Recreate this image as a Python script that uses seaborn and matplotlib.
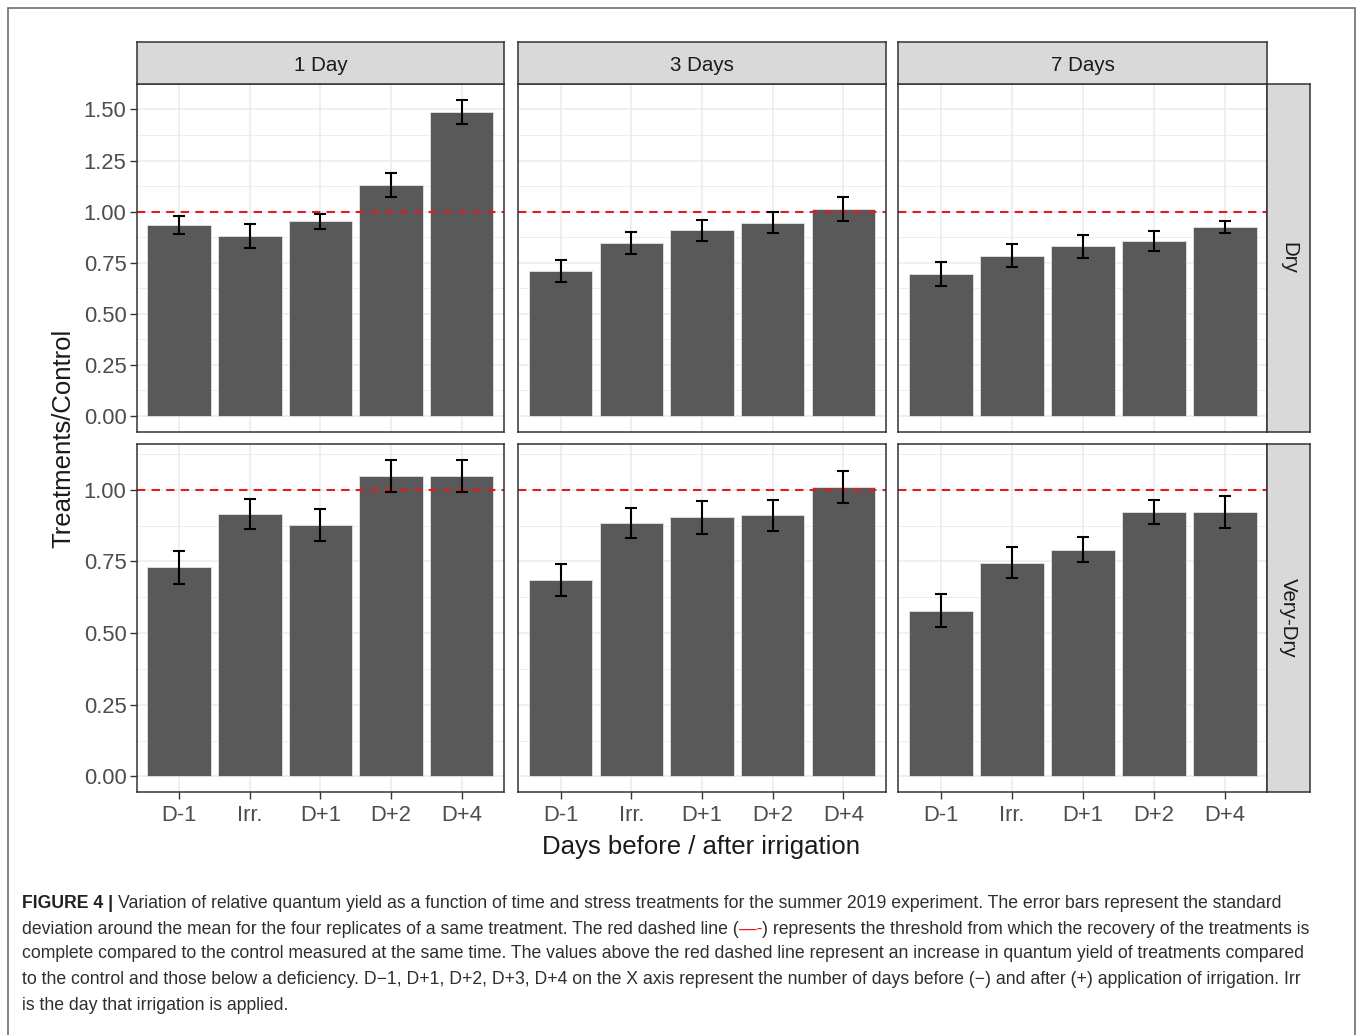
import matplotlib
matplotlib.use("Agg")
import matplotlib.pyplot as plt
from matplotlib.patches import Rectangle
import numpy as np
import pandas as pd
import seaborn as sns

# Data (bar = mean, whisker = +/- sd)
day_labels = ["D-1", "Irr.", "D+1", "D+2", "D+4"]
periods = ["1 Day", "3 Days", "7 Days"]
stresses = ["Dry", "Very-Dry"]

dry_1day_mean = [0.936, 0.882, 0.953, 1.130, 1.488]
dry_1day_sd = [0.045, 0.058, 0.036, 0.058, 0.058]
dry_3days_mean = [0.708, 0.848, 0.908, 0.945, 1.014]
dry_3days_sd = [0.054, 0.053, 0.053, 0.052, 0.058]
dry_7days_mean = [0.696, 0.785, 0.830, 0.856, 0.925]
dry_7days_sd = [0.059, 0.058, 0.057, 0.049, 0.031]

vdry_1day_mean = [0.729, 0.916, 0.878, 1.047, 1.047]
vdry_1day_sd = [0.057, 0.053, 0.056, 0.056, 0.056]
vdry_3days_mean = [0.684, 0.884, 0.903, 0.910, 1.009]
vdry_3days_sd = [0.056, 0.053, 0.057, 0.054, 0.056]
vdry_7days_mean = [0.578, 0.746, 0.791, 0.922, 0.922]
vdry_7days_sd = [0.057, 0.053, 0.044, 0.041, 0.057]

means = {
    ("Dry", "1 Day"): dry_1day_mean, ("Dry", "3 Days"): dry_3days_mean, ("Dry", "7 Days"): dry_7days_mean,
    ("Very-Dry", "1 Day"): vdry_1day_mean, ("Very-Dry", "3 Days"): vdry_3days_mean, ("Very-Dry", "7 Days"): vdry_7days_mean,
}
sds = {
    ("Dry", "1 Day"): dry_1day_sd, ("Dry", "3 Days"): dry_3days_sd, ("Dry", "7 Days"): dry_7days_sd,
    ("Very-Dry", "1 Day"): vdry_1day_sd, ("Very-Dry", "3 Days"): vdry_3days_sd, ("Very-Dry", "7 Days"): vdry_7days_sd,
}

rows = []
for s in stresses:
    for p in periods:
        for d, m, e in zip(day_labels, means[(s, p)], sds[(s, p)]):
            rows.append({"stress": s, "period": p, "day": d, "ratio": m, "sd": e})
df = pd.DataFrame(rows)

sns.set_theme(style="white")
FONT = ["Liberation Sans", "DejaVu Sans"]
plt.rcParams["font.family"] = FONT

W, H = 1358, 1035
fig = plt.figure(figsize=(W / 100, H / 100), dpi=100)
fig.patch.set_facecolor("white")


def rect(x0, y0, x1, y1):
    return [x0 / W, 1 - y1 / H, (x1 - x0) / W, (y1 - y0) / H]


col_x = [(136.7, 504.0), (518.3, 885.7), (898.3, 1267.3)]
row_y = [(84.3, 431.7), (444.3, 792.3)]
top_strip_y = (41.7, 84.3)
right_strip_x = (1267.3, 1310.0)

BAR = "#595959"
GRID = "#EBEBEB"
EDGE = "#333333"
STRIP = "#D9D9D9"
TICK_COL = "#4D4D4D"
TICK_SIZE = 15.8

for ri, s in enumerate(stresses):
    sub_s = df[df.stress == s]
    top = (sub_s.ratio + sub_s.sd).max()
    ylo, yhi = -0.05 * top, top * 1.05
    for ci, p in enumerate(periods):
        sub = sub_s[sub_s.period == p]
        ax = fig.add_axes(rect(col_x[ci][0], row_y[ri][0], col_x[ci][1], row_y[ri][1]))
        ax.set_facecolor("white")
        sns.barplot(data=sub, x="day", y="ratio", order=day_labels, color=BAR,
                    saturation=1, width=0.9, errorbar=None, ax=ax,
                    edgecolor="#E3E3E3", linewidth=0.6, zorder=2)
        ax.errorbar(np.arange(len(day_labels)), sub.ratio.values, yerr=sub.sd.values,
                    fmt="none", ecolor="black", elinewidth=1.5, capsize=4.6,
                    capthick=1.5, zorder=4)
        ax.axhline(1.0, color="#E41A1C", ls=(0, (4, 3)), lw=1.5, zorder=3)

        ax.set_xlim(-0.6, 4.6)
        ax.set_ylim(ylo, yhi)
        ax.set_yticks(np.arange(0, top + 0.001, 0.25))
        ax.set_yticks(np.arange(0.125, yhi, 0.25), minor=True)
        ax.set_axisbelow(True)
        ax.grid(which="major", color=GRID, lw=1.1, zorder=0)
        ax.grid(which="minor", axis="y", color=GRID, lw=0.6, zorder=0)
        ax.set_xlabel("")
        ax.set_ylabel("")
        for sp in ax.spines.values():
            sp.set_visible(True)
            sp.set_color(EDGE)
            sp.set_linewidth(1.1)
            sp.set_zorder(5)

        ax.tick_params(which="minor", length=0)
        ax.tick_params(axis="y", length=4.8 if ci == 0 else 0, width=1, color=EDGE,
                       labelsize=TICK_SIZE, labelcolor=TICK_COL, pad=2.5,
                       labelleft=(ci == 0), left=(ci == 0))
        ax.tick_params(axis="x", length=4.8 if ri == 1 else 0, width=1, color=EDGE,
                       labelsize=TICK_SIZE, labelcolor=TICK_COL, pad=4.5,
                       labelbottom=(ri == 1), bottom=(ri == 1))
        if ci == 0:
            ax.set_yticklabels([f"{v:.2f}" for v in ax.get_yticks()])

        # column strips on top
        if ri == 0:
            sax = fig.add_axes(rect(col_x[ci][0], top_strip_y[0], col_x[ci][1], top_strip_y[1]))
            sax.set_facecolor(STRIP)
            sax.set_xticks([])
            sax.set_yticks([])
            for sp in sax.spines.values():
                sp.set_visible(True)
                sp.set_color(EDGE)
                sp.set_linewidth(1.1)
            sax.text(0.5, 0.45, p, ha="center", va="center", fontsize=14.8,
                     color="#1A1A1A", transform=sax.transAxes)
    # row strips on right
    rax = fig.add_axes(rect(right_strip_x[0], row_y[ri][0], right_strip_x[1], row_y[ri][1]))
    rax.set_facecolor(STRIP)
    rax.set_xticks([])
    rax.set_yticks([])
    for sp in rax.spines.values():
        sp.set_visible(True)
        sp.set_color(EDGE)
        sp.set_linewidth(1.1)
    rax.text(0.5, 0.5, s, ha="center", va="center", rotation=270, fontsize=14.8,
             color="#1A1A1A", transform=rax.transAxes)

fig.text(63 / W, 1 - 438 / H, "Treatments/Control", rotation=90, ha="center",
         va="center", fontsize=18.5, color="#1A1A1A")
fig.text(701 / W, 1 - 847 / H, "Days before / after irrigation", ha="center",
         va="center", fontsize=18.5, color="#1A1A1A")

# outer frame
fig.patches.append(Rectangle((8 / W, -0.01), (1355 - 8) / W, 1 - 8 / H + 0.01,
                             transform=fig.transFigure, fill=False,
                             edgecolor="#6E6E6E", lw=1.2))

# caption, laid out line by line
CAP = "#2E2E2E"
CAP_SIZE = 12.7
renderer = fig.canvas.get_renderer()


def put_runs(x_px, y_px, runs):
    x = x_px
    for txt, kw in runs:
        t = fig.text(x / W, 1 - y_px / H, txt, ha="left", va="center",
                     fontsize=CAP_SIZE, color=kw.get("color", CAP),
                     fontweight=kw.get("weight", "normal"))
        bb = t.get_window_extent(renderer=renderer)
        x += bb.width


cap_lines = [
    [("FIGURE 4 | ", {"weight": "bold", "color": "#222222"}),
     ("Variation of relative quantum yield as a function of time and stress treatments for the summer 2019 experiment. The error bars represent the standard", {})],
    [("deviation around the mean for the four replicates of a same treatment. The red dashed line (", {}),
     ("\u2014-", {"color": "#E41A1C"}),
     (") represents the threshold from which the recovery of the treatments is", {})],
    [("complete compared to the control measured at the same time. The values above the red dashed line represent an increase in quantum yield of treatments compared", {})],
    [("to the control and those below a deficiency. D\u22121, D+1, D+2, D+3, D+4 on the X axis represent the number of days before (\u2212) and after (+) application of irrigation. Irr", {})],
    [("is the day that irrigation is applied.", {})],
]
cap_y = [903, 929, 954, 980, 1006]
for yy, runs in zip(cap_y, cap_lines):
    put_runs(22, yy, runs)

fig.savefig("out.png", dpi=100)
